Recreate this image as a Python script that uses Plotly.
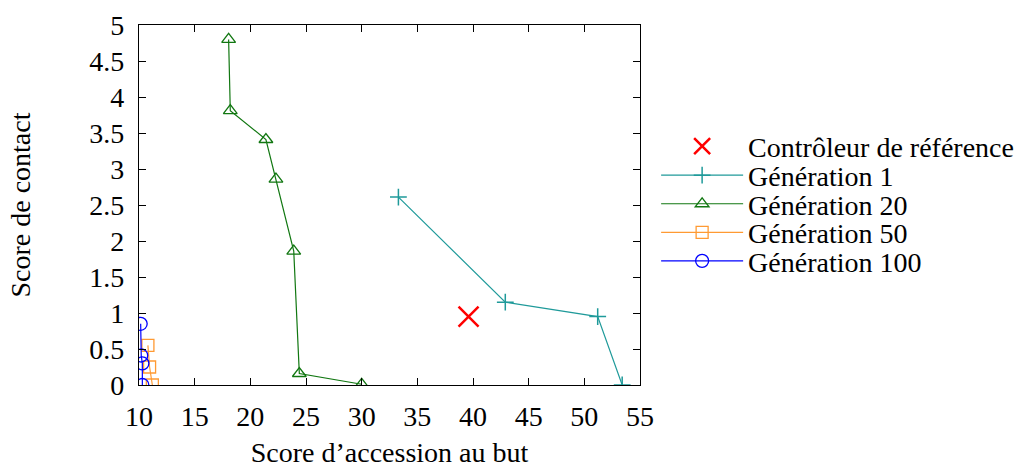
import plotly.graph_objects as go

# Reference controller
ref_x = [39.6]
ref_y = [0.95]

# Pareto fronts per generation
gen1_x = [33.3, 42.9, 51.2, 53.4]
gen1_y = [2.61, 1.15, 0.95, 0.0]

gen20_x = [18.05, 18.2, 21.4, 22.3, 23.9, 24.4, 30.0]
gen20_y = [4.80, 3.81, 3.41, 2.86, 1.86, 0.16, 0.01]

gen50_x = [10.8, 10.95, 11.2]
gen50_y = [0.55, 0.25, 0.0]

gen100_x = [10.15, 10.2, 10.3, 10.3]
gen100_y = [0.85, 0.41, 0.30, 0.0]

FONT = "Liberation Serif"
FS = 28

fig = go.Figure()

fig.add_trace(go.Scatter(
    x=ref_x, y=ref_y, mode="markers", name="Contrôleur de référence",
    legend="legend",
    marker=dict(symbol="x-thin-open", size=20, color="#ff0000",
                line=dict(color="#ff0000", width=2.5)),
))
fig.add_trace(go.Scatter(
    x=gen1_x, y=gen1_y, mode="lines+markers", name="Génération 1",
    legend="legend2",
    line=dict(color="#1f9a9a", width=1.2),
    marker=dict(symbol="cross-thin-open", size=12,
                line=dict(color="#1f9a9a", width=1.5)),
))
fig.add_trace(go.Scatter(
    x=gen20_x, y=gen20_y, mode="lines+markers", name="Génération 20",
    legend="legend3",
    line=dict(color="#117711", width=1.2),
    marker=dict(symbol="triangle-up-open", size=12, color="#117711",
                line=dict(width=1.3)),
))
fig.add_trace(go.Scatter(
    x=gen50_x, y=gen50_y, mode="lines+markers", name="Génération 50",
    legend="legend4",
    line=dict(color="#ff9a33", width=1.2),
    marker=dict(symbol="square-open", size=12, color="#ff9a33",
                line=dict(width=1.3)),
))
fig.add_trace(go.Scatter(
    x=gen100_x, y=gen100_y, mode="lines+markers", name="Génération 100",
    legend="legend5",
    line=dict(color="#0000ff", width=1.2),
    marker=dict(symbol="circle-open", size=13, color="#0000ff",
                line=dict(width=1.3)),
))

axis_common = dict(
    showline=True, linecolor="black", linewidth=1.2, mirror="allticks",
    ticks="inside", ticklen=7, tickcolor="black", tickwidth=1,
    showgrid=False, zeroline=False, automargin=False,
    tickfont=dict(family=FONT, size=FS, color="black"),
    title_font=dict(family=FONT, size=FS, color="black"),
)

# one legend box per entry so the row spacing follows the key layout
legend_rows = [0.687, 0.625, 0.564, 0.503, 0.442]
legend_style = dict(x=0.642, xanchor="left", yanchor="middle",
                    xref="container", yref="container",
                    bgcolor="rgba(0,0,0,0)", borderwidth=0,
                    font=dict(family=FONT, size=FS, color="black"),
                    itemwidth=82)
legends = {}
for i, ypos in enumerate(legend_rows):
    key = "legend" if i == 0 else f"legend{i + 1}"
    legends[key] = dict(y=ypos, **legend_style)

fig.update_layout(
    width=1022, height=468,
    margin=dict(l=139, r=382, t=25, b=83),
    paper_bgcolor="white", plot_bgcolor="white",
    font=dict(family=FONT, size=FS, color="black"),
    xaxis=dict(range=[10, 55], dtick=5, tick0=10,
               title=dict(text="Score d’accession au but", standoff=29),
               ticklabelstandoff=6, **axis_common),
    yaxis=dict(range=[0, 5], dtick=0.5, tick0=0,
               title=dict(text="Score de contact", standoff=50),
               ticklabelstandoff=8, **axis_common),
    showlegend=True,
    **legends,
)

fig.write_html("out.html")
